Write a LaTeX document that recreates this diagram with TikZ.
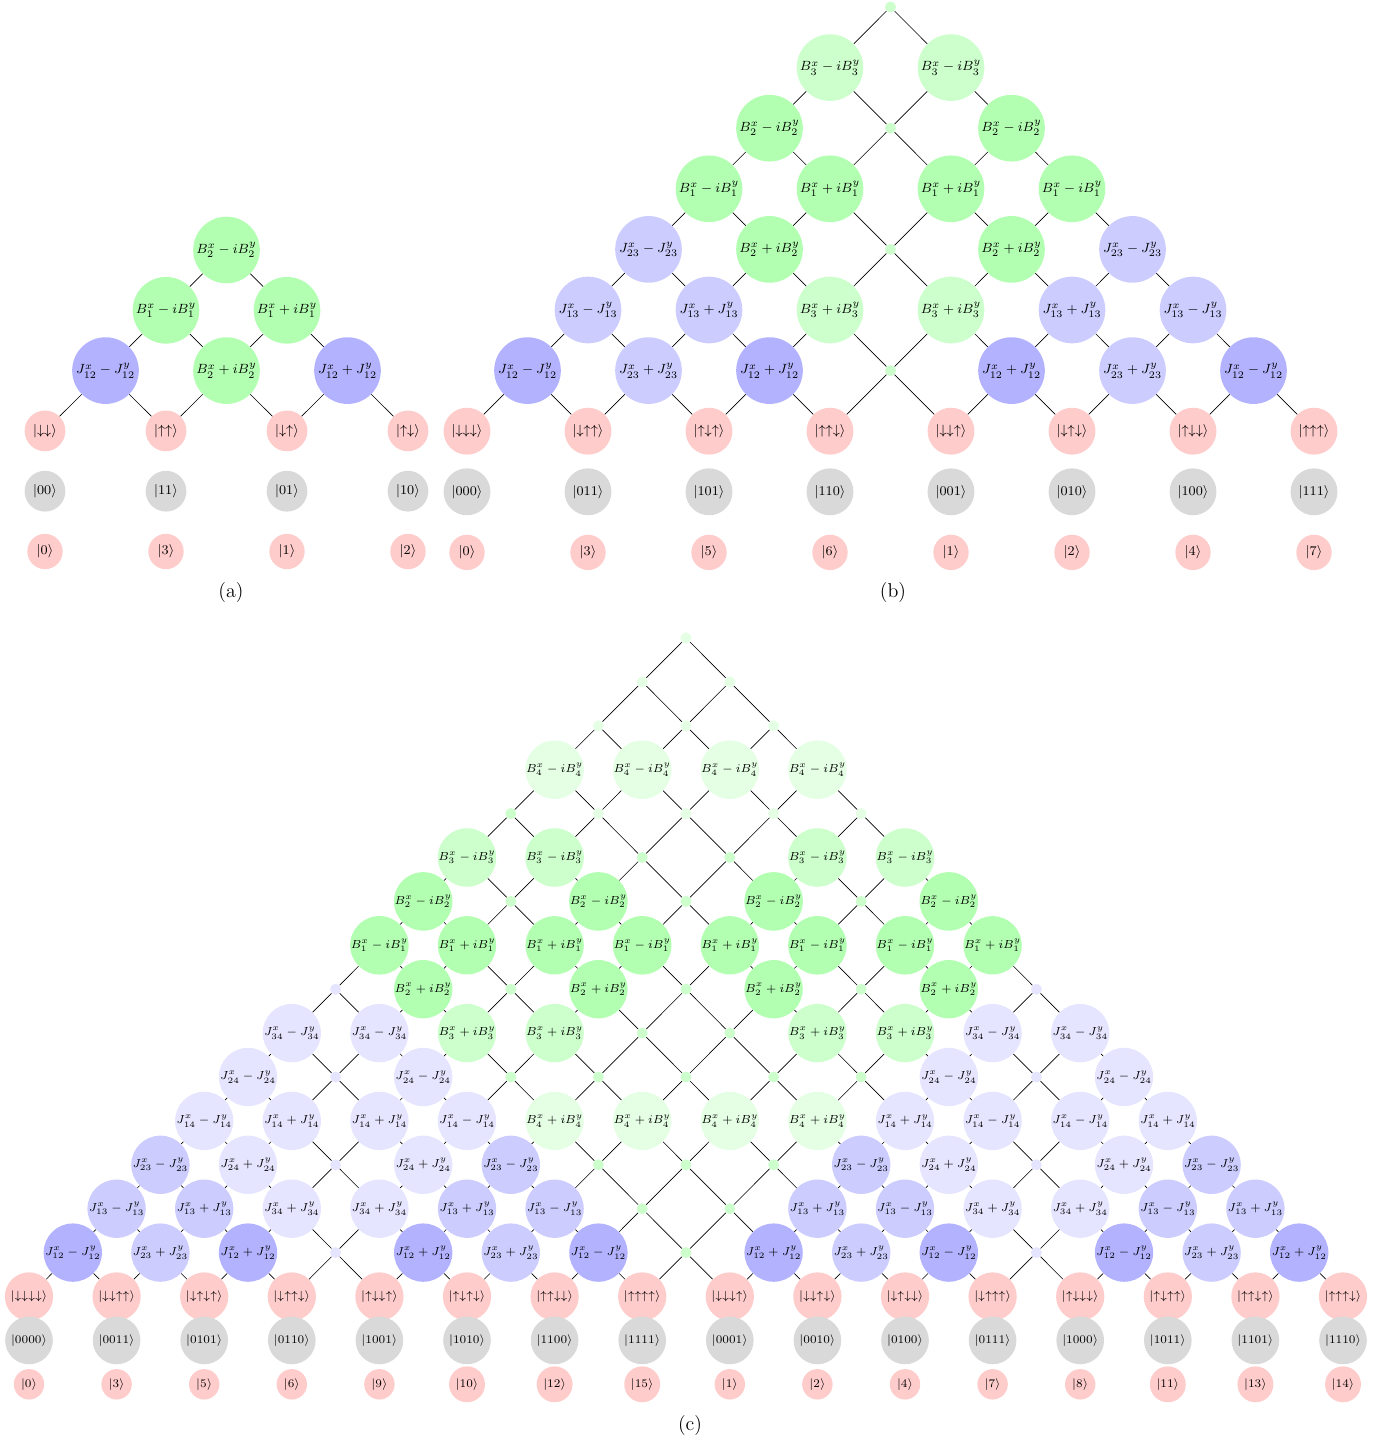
\documentclass[tikz,border=0pt]{standalone}
\usepackage{amsmath}
\usetikzlibrary{calc}

% coefficient labels
\newcommand{\Bm}[1]{$B^x_{#1}-iB^y_{#1}$}
\newcommand{\Bp}[1]{$B^x_{#1}+iB^y_{#1}$}
\newcommand{\Jm}[1]{$J^x_{#1}-J^y_{#1}$}
\newcommand{\Jp}[1]{$J^x_{#1}+J^y_{#1}$}
\newcommand{\spU}{\uparrow}
\newcommand{\spD}{\downarrow}

\begin{document}
\begin{tikzpicture}[x=0.6pt, y=-0.6pt]
    \tikzset{
		lat/.style={circle, inner sep=0pt, font=\footnotesize},
		big/.style={lat, minimum size=40pt},
		hub/.style={lat, minimum size=6.6pt},
		bA/.style={big, fill=green!30},
		bB/.style={big, fill=green!20},
		bC/.style={big, fill=green!10},
		jA/.style={big, fill=blue!30},
		jB/.style={big, fill=blue!20},
		jC/.style={big, fill=blue!10},
		dB/.style={hub, fill=green!20},
		dC/.style={hub, fill=green!10},
		dJ/.style={hub, fill=blue!10},
		ket/.style={circle, inner sep=3pt, font=\footnotesize},
		spin/.style={ket, fill=red!20},
		bits/.style={ket, fill=black!15},
		idx/.style={ket, fill=red!20},
		subcap/.style={font=\large},
		link/.style={line width=0.4pt}
	}
	\useasboundingbox (0,0) rectangle (1385,1443);

	% --- (a): dos espines ---
	\begin{scope}[shift={(226.5,250)}]
	\foreach \row [count=\r from 0] in {
		{bA/\Bm2},
		{bA/\Bm1, bA/\Bp1},
		{jA/\Jm{12}, bA/\Bp2, jA/\Jp{12}}}
		\foreach \s/\t [count=\k from 0] in \row
			\node[\s] (a-\r-\k) at ({(2*\k-\r)*60.5}, {\r*60.3}) {\t};
	% hojas, base computacional e indice
	\foreach \sv/\bv/\nv [count=\k from 0] in {\spD\spD/00/0, \spU\spU/11/3, \spD\spU/01/1, \spU\spD/10/2} {
		\node[spin] (a-3-\k) at ({(2*\k-3)*60.5}, {3*60.3}) {$|{\sv}\rangle$};
		\node[bits] (a-g-\k) at ({(2*\k-3)*60.5}, {4*60.3}) {$|\bv\rangle$};
		\node[idx] (a-i-\k) at ({(2*\k-3)*60.5}, {5*60.3}) {$|\nv\rangle$};
	}
	\foreach \r in {0,...,2}
		\foreach \k in {0,...,\r} {
			\pgfmathtruncatemacro\rr{\r+1}
			\pgfmathtruncatemacro\kk{\k+1}
			\draw[link] (a-\r-\k) -- (a-\rr-\k);
			\draw[link] (a-\r-\k) -- (a-\rr-\kk);
		}
	\end{scope}
	\node[subcap] (capA) at (231,593) {(a)};

	% --- (b): tres espines ---
	\begin{scope}[shift={(890.5,7)}]
	\foreach \row [count=\r from 0] in {
		{dB/{}},
		{bB/\Bm3, bB/\Bm3},
		{bA/\Bm2, dB/{}, bA/\Bm2},
		{bA/\Bm1, bA/\Bp1, bA/\Bp1, bA/\Bm1},
		{jB/\Jm{23}, bA/\Bp2, dB/{}, bA/\Bp2, jB/\Jm{23}},
		{jB/\Jm{13}, jB/\Jp{13}, bB/\Bp3, bB/\Bp3, jB/\Jp{13}, jB/\Jm{13}},
		{jA/\Jm{12}, jB/\Jp{23}, jA/\Jp{12}, dB/{}, jA/\Jp{12}, jB/\Jp{23}, jA/\Jm{12}}}
		\foreach \s/\t [count=\k from 0] in \row
			\node[\s] (b-\r-\k) at ({(2*\k-\r)*60.5}, {\r*60.6}) {\t};
	\foreach \sv/\bv/\nv [count=\k from 0] in {
		\spD\spD\spD/000/0, \spD\spU\spU/011/3, \spU\spD\spU/101/5, \spU\spU\spD/110/6,
		\spD\spD\spU/001/1, \spD\spU\spD/010/2, \spU\spD\spD/100/4, \spU\spU\spU/111/7} {
		\node[spin] (b-7-\k) at ({(2*\k-7)*60.5}, {7*60.6}) {$|{\sv}\rangle$};
		\node[bits] (b-g-\k) at ({(2*\k-7)*60.5}, {8*60.6}) {$|\bv\rangle$};
		\node[idx] (b-i-\k) at ({(2*\k-7)*60.5}, {9*60.6}) {$|\nv\rangle$};
	}
	\foreach \r in {0,...,6}
		\foreach \k in {0,...,\r} {
			\pgfmathtruncatemacro\rr{\r+1}
			\pgfmathtruncatemacro\kk{\k+1}
			\draw[link] (b-\r-\k) -- (b-\rr-\k);
			\draw[link] (b-\r-\k) -- (b-\rr-\kk);
		}
	\end{scope}
	\node[subcap] (capB) at (893,593) {(b)};

	% --- (c): cuatro espines ---
	\begin{scope}[shift={(686,638)}, lat/.append style={font=\scriptsize},
		big/.append style={minimum size=35pt}, ket/.append style={font=\scriptsize, inner sep=2.3pt}]
	\foreach \row [count=\r from 0] in {
		{dC/{}},
		{dC/{}, dC/{}},
		{dC/{}, dC/{}, dC/{}},
		{bC/\Bm4, bC/\Bm4, bC/\Bm4, bC/\Bm4},
		{dB/{}, dC/{}, dC/{}, dC/{}, dC/{}},
		{bB/\Bm3, bB/\Bm3, dB/{}, dB/{}, bB/\Bm3, bB/\Bm3},
		{bA/\Bm2, dB/{}, bA/\Bm2, dB/{}, bA/\Bm2, dB/{}, bA/\Bm2},
		{bA/\Bm1, bA/\Bp1, bA/\Bp1, bA/\Bm1, bA/\Bp1, bA/\Bm1, bA/\Bm1, bA/\Bp1},
		{dJ/{}, bA/\Bp2, dB/{}, bA/\Bp2, dB/{}, bA/\Bp2, dB/{}, bA/\Bp2, dJ/{}},
		{jC/\Jm{34}, jC/\Jm{34}, bB/\Bp3, bB/\Bp3, dB/{}, dB/{}, bB/\Bp3, bB/\Bp3, jC/\Jm{34}, jC/\Jm{34}},
		{jC/\Jm{24}, dJ/{}, jC/\Jm{24}, dB/{}, dB/{}, dB/{}, dB/{}, dB/{}, jC/\Jm{24}, dJ/{}, jC/\Jm{24}},
		{jC/\Jm{14}, jC/\Jp{14}, jC/\Jp{14}, jC/\Jm{14}, bC/\Bp4, bC/\Bp4, bC/\Bp4, bC/\Bp4, jC/\Jp{14}, jC/\Jm{14}, jC/\Jm{14}, jC/\Jp{14}},
		{jB/\Jm{23}, jC/\Jp{24}, dJ/{}, jC/\Jp{24}, jB/\Jm{23}, dB/{}, dB/{}, dB/{}, jB/\Jm{23}, jC/\Jp{24}, dJ/{}, jC/\Jp{24}, jB/\Jm{23}},
		{jB/\Jm{13}, jB/\Jp{13}, jC/\Jp{34}, jC/\Jp{34}, jB/\Jp{13}, jB/\Jm{13}, dB/{}, dB/{}, jB/\Jp{13}, jB/\Jm{13}, jC/\Jp{34}, jC/\Jp{34}, jB/\Jm{13}, jB/\Jp{13}},
		{jA/\Jm{12}, jB/\Jp{23}, jA/\Jp{12}, dJ/{}, jA/\Jp{12}, jB/\Jp{23}, jA/\Jm{12}, dB/{}, jA/\Jp{12}, jB/\Jp{23}, jA/\Jm{12}, dJ/{}, jA/\Jm{12}, jB/\Jp{23}, jA/\Jp{12}}}
		\foreach \s/\t [count=\k from 0] in \row
			\node[\s] (c-\r-\k) at ({(2*\k-\r)*43.8}, {\r*43.9}) {\t};
	\foreach \sv/\bv/\nv [count=\k from 0] in {
		\spD\spD\spD\spD/0000/0, \spD\spD\spU\spU/0011/3, \spD\spU\spD\spU/0101/5, \spD\spU\spU\spD/0110/6,
		\spU\spD\spD\spU/1001/9, \spU\spD\spU\spD/1010/10, \spU\spU\spD\spD/1100/12, \spU\spU\spU\spU/1111/15,
		\spD\spD\spD\spU/0001/1, \spD\spD\spU\spD/0010/2, \spD\spU\spD\spD/0100/4, \spD\spU\spU\spU/0111/7,
		\spU\spD\spD\spD/1000/8, \spU\spD\spU\spU/1011/11, \spU\spU\spD\spU/1101/13, \spU\spU\spU\spD/1110/14} {
		\node[spin] (c-15-\k) at ({(2*\k-15)*43.8}, {15*43.9}) {$|{\sv}\rangle$};
		\node[bits] (c-g-\k) at ({(2*\k-15)*43.8}, {16*43.9}) {$|\bv\rangle$};
		\node[idx] (c-i-\k) at ({(2*\k-15)*43.8}, {17*43.9}) {$|\nv\rangle$};
	}
	\foreach \r in {0,...,14}
		\foreach \k in {0,...,\r} {
			\pgfmathtruncatemacro\rr{\r+1}
			\pgfmathtruncatemacro\kk{\k+1}
			\draw[link] (c-\r-\k) -- (c-\rr-\k);
			\draw[link] (c-\r-\k) -- (c-\rr-\kk);
		}
	\end{scope}
	\node[subcap] (capC) at (690,1425) {(c)};
\end{tikzpicture}
\end{document}
